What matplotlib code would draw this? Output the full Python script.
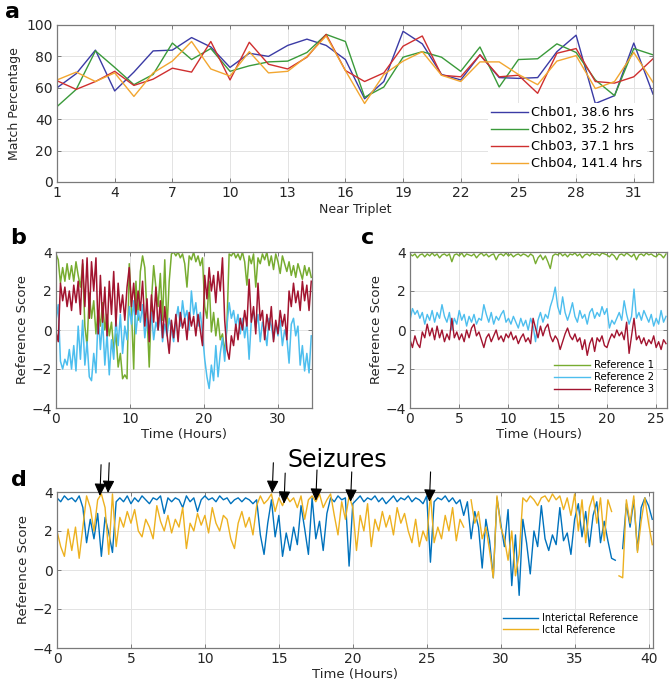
import numpy as np
import matplotlib
matplotlib.use("Agg")
import matplotlib.pyplot as plt

# ---------------- Panel a data ----------------
triplets = list(range(1, 33))
chb01 = [60, 69, 84, 58, 70, 83.5, 84, 92, 86, 73, 82, 80, 87, 91, 87, 78, 53, 64, 96, 88, 68.5, 65, 81, 66.5, 66, 66.5, 83, 93.5, 50, 55, 88.5, 56]
chb02 = [48, 59, 83.5, 73, 62, 68.5, 88.5, 78, 85, 70.5, 74, 76.5, 77, 82.5, 94, 89.5, 54, 60.5, 79.5, 83, 79.5, 70.5, 86, 60.5, 78, 78.5, 88, 82.5, 65, 55, 85, 81]
chb03 = [64.5, 59, 64, 70.5, 61.5, 65.5, 72.5, 70, 89.5, 65, 89, 75, 72, 79.5, 94, 71, 64, 69.5, 86.5, 93, 68, 67, 81, 67, 68, 56.5, 82, 85, 64, 63, 67, 78.5]
chb04 = [65, 70, 64, 69.5, 54.5, 69.5, 77, 89.5, 72, 67.5, 83, 69.5, 70.5, 80, 93, 71, 50, 68.5, 77, 83, 68, 64, 76.5, 76.5, 68.5, 62, 77, 80.5, 59.5, 64, 82.5, 63.5]
legend_a = ["Chb01, 38.6 hrs", "Chb02, 35.2 hrs", "Chb03, 37.1 hrs", "Chb04, 141.4 hrs"]

# ---------------- Panel b data (0 - 34.5 h) ----------------
b_end = 34.5
b_ref1 = [3.9, 3.6, 2.4, 3.2, 2.5, 3.4, 2.6, 3.3, 2.5, 3.5, 2.8, 2.2, 3.4, 0.2, -0.8, 1.9, 0.6, 1.5, -0.2, 1.0,
          0.2, 1.4, 0.0, 0.8, -0.3, 0.4, -1.0, -0.2, -1.9, -1.2, -2.5, -2.3, -2.5, 3.4, 1.0, -2.0, 2.5, 0.5, 3.0, 3.8,
          3.2, 0.8, -1.9, 1.5, 3.3, 2.2, 1.2, 2.9, 0.5, 3.6, 0.0, 2.5, 3.9, 4.0, 3.8, 4.0, 3.7, 3.9, 3.4, 2.2,
          3.8, 3.6, 4.0, 3.5, 3.8, 3.3, 3.7, 1.2, 0.6, 2.5, -0.1, 0.9, -0.3, 0.6, -0.5, -0.2, -1.2, 0.2, 3.9, 3.8,
          4.0, 3.7, 3.9, 3.6, 4.0, 3.5, 2.3, 3.8, 3.4, 3.9, 2.2, 3.7, 3.4, 3.9, 3.6, 4.0, 3.3, 3.8, 3.1, 3.9,
          3.5, 2.9, 3.8, 3.4, 3.0, 3.5, 2.8, 3.3, 2.7, 3.4, 3.0, 2.6, 3.3, 2.8, 3.2, 2.7]
b_ref2 = [0.5, 1.3, -1.6, -2.0, -1.5, -1.8, -1.0, -2.0, -0.8, -2.1, 0.2, -1.5, 0.5, -1.8, -0.6, -2.4, -2.6, -1.2, -2.2, 0.8,
          -1.0, 0.5, -1.8, -0.2, -2.3, -0.5, -1.5, 0.6, -0.8, 0.8, -1.2, 0.2, -0.5, 1.2, 0.3, 1.5, -0.2, 1.0, 0.4, 1.3,
          -0.4, 0.6, -0.3, 0.9, -0.5, 0.4, 0.0, 0.9, -0.6, 0.3, -0.3, 0.6, 0.0, -0.6, 0.5, 1.2, 0.2, 1.5, 0.6, 1.0,
          0.0, 2.0, 0.8, 1.4, 0.2, 0.9, -0.2, -1.5, -2.4, -3.0, -1.8, -2.6, -0.8, -2.4, -1.2, -0.4, -1.6, 0.2, 1.4, 0.6,
          1.0, 0.2, 0.8, -0.2, 0.6, -0.4, 0.4, -1.5, 0.5, 1.0, 0.1, 0.8, -0.6, 0.4, 0.0, -0.8, 0.6, 0.2, -0.5, 0.3,
          -0.3, 0.5, -0.8, 0.0, -0.4, -1.7, 0.3, 0.6, -0.3, 0.2, -1.8, -0.8, -2.1, -1.2, -2.2, -0.3]
b_ref3 = [-0.1, -0.6, 2.4, 1.5, 2.2, 1.2, 2.0, 1.0, 2.3, 1.4, 2.5, 0.8, 3.6, 1.2, 3.7, 0.6, 3.5, 2.0, 3.7, -0.2,
          2.8, 0.4, 2.2, -0.3, 2.5, 0.8, 3.0, 0.2, 2.4, 0.9, 1.8, 0.5, 2.2, 3.2, 1.2, 2.4, 0.8, 2.0, 1.0, 2.5,
          0.2, 1.6, -0.6, 1.8, 0.4, 2.2, 0.0, 1.5, -0.4, 1.2, -0.2, -1.2, 0.5, -0.4, 0.8, -0.6, 0.9, 0.1, 0.6, -0.5,
          0.9, 0.2, 0.7, -0.3, 0.8, 0.0, -0.8, 2.8, 1.6, 3.2, 2.0, 2.8, 1.4, 3.0, 2.0, 3.7, 0.5, -1.0, -1.5, -0.3,
          -0.8, 0.3, -0.5, 0.6, 0.0, 1.0, 0.2, 2.6, 0.4, 1.2, -0.2, 2.4, 0.5, 1.0, -0.5, 0.8, 0.0, 1.2, -0.6, 0.5,
          -0.2, 1.0, 0.2, 0.8, -0.5, 2.0, 1.2, 2.4, 1.4, 2.0, 1.0, 2.5, 1.5, 2.3, 1.0, 2.5]

# ---------------- Panel c data (0 - 26 h) ----------------
c_end = 26.0
c_ref1 = [3.9, 3.8, 3.9, 3.7, 3.85, 3.9, 3.75, 3.9, 3.8, 3.95, 3.8, 3.9, 3.7, 3.85, 3.9, 3.8, 3.9, 3.5, 3.85, 3.9,
          3.8, 3.95, 3.75, 3.9, 3.85, 3.8, 3.9, 3.7, 3.85, 3.95, 3.8, 3.9, 3.75, 3.85, 3.9, 3.6, 3.85, 3.9, 3.8, 3.95,
          3.8, 3.9, 3.75, 3.85, 3.9, 3.8, 3.9, 3.85, 3.75, 3.9, 3.8, 3.4, 3.7, 3.85, 3.6, 3.8, 3.5, 3.15, 3.8, 3.9,
          3.85, 3.95, 3.8, 3.9, 3.75, 3.9, 3.85, 3.95, 3.8, 3.9, 3.7, 3.85, 3.9, 3.8, 3.95, 3.85, 3.9, 3.8, 3.95, 3.9,
          3.85, 3.75, 3.9, 3.8, 3.6, 3.85, 3.9, 3.8, 3.95, 3.85, 3.75, 3.9, 3.6, 3.85, 3.9, 3.8, 3.95, 3.85, 3.9, 3.8,
          3.75, 3.9, 3.85, 3.7, 3.9]
c_ref2 = [0.5, 1.1, 0.8, 1.0, 0.6, 0.9, 0.3, 0.8, 0.5, 1.0, 0.4, 0.9, 0.6, 1.3, 0.7, 0.4, 0.9, 0.0, 0.6, 0.3,
          1.0, 0.5, 0.8, 0.2, 0.7, 0.4, 0.8, 0.3, 0.6, 0.5, 1.3, 0.8, 0.4, 0.9, 0.3, 0.7, 0.5, 0.8, 1.0, 0.4,
          0.6, 0.3, 0.7, 0.4, 0.1, 0.6, 0.2, 0.5, 0.0, 0.6, 0.2, -0.6, 0.5, 0.9, 0.4, 0.8, 0.6, 1.2, 1.6, 2.2,
          1.2, 0.8, 1.7, 0.9, 0.5, 0.9, 1.4, 0.7, 0.4, 1.0, 0.6, 0.8, 0.3, 0.9, 1.1, 0.6, 0.9, 0.7, 1.2, 0.8,
          1.1, 0.1, 0.5, 0.3, 0.6, 0.9, 0.5, 1.5, 0.8, 0.3, 0.7, 2.1, 0.6, 0.9, 0.5, 1.0, 0.7, 0.4, 0.8, 0.2,
          0.6, 0.3, 1.0, 0.4, 0.7]
c_ref3 = [-0.5, -0.9, -0.3, -0.7, -0.9, -0.1, -0.4, 0.3, -0.3, 0.1, -0.5, 0.2, -0.4, 0.0, -0.6, -0.2, -0.5, 0.6, -0.4, -0.1,
          -0.5, -0.2, -0.6, 0.0, -0.4, 0.1, 0.3, -0.3, -0.1, -0.5, -0.9, -0.4, -0.2, -0.6, -0.3, 0.0, -0.5, -0.3, -0.6, -0.2,
          -0.4, -0.1, -0.5, -0.3, -0.7, -0.4, -0.2, -0.6, -0.4, -0.7, 0.6, 0.1, -0.4, 0.2, -0.3, 0.1, 0.3, -0.3, -0.6, -0.3,
          -0.5, -1.0, -0.6, -0.2, 0.1, -0.3, -0.5, -0.2, -0.6, -0.4, -1.0, -0.5, -1.3, -0.7, -0.4, -1.1, -0.4, -0.6, -0.3, -0.8,
          -0.9, -0.5, -0.2, -0.4, 0.0, -0.3, -0.1, -0.5, 0.4, -1.2, -0.3, 0.6, -0.5, -0.3, -0.7, -0.4, -0.8, -0.5, -0.7, -0.3,
          -0.9, -0.6, -1.0, -0.5, -0.7]
legend_c = ["Reference 1", "Reference 2", "Reference 3"]

# ---------------- Panel d data (0 - 40.25 h) ----------------
nan = np.nan
d_end = 40.25
d_interictal = [3.7, 3.5, 3.8, 3.6, 3.7, 3.5, 3.8, 3.2, 1.4, 2.6, 1.6, 2.9, 0.7, 2.7, 1.9, 0.9, 3.5, 3.7, 3.5, 3.8,
                3.4, 3.7, 3.5, 3.8, 3.6, 3.4, 3.7, 3.6, 3.8, 2.9, 3.7, 3.5, 3.7, 3.6, 3.2, 3.8, 3.5, 3.7, 3.0, 3.6,
                3.8, 3.6, 3.7, 3.5, 3.8, 3.6, 3.7, 3.4, 3.6, 3.7, 3.5, 3.7, 3.6, 3.4, 3.6, 1.8, 0.8, 2.4, 3.6, 1.7,
                2.8, 0.7, 1.9, 1.0, 2.2, 1.3, 3.3, 2.1, 0.8, 3.7, 1.6, 2.5, 1.0, 2.9, 3.7, 3.5, 3.8, 3.6, 3.7, 0.2,
                3.4, 3.6, 3.8, 3.5, 3.7, 3.6, 3.8, 3.5, 3.7, 3.4, 3.6, 3.8, 3.5, 3.7, 3.6, 3.8, 3.5, 3.7, 3.6, 3.4,
                3.8, 0.4, 3.5, 3.7, 3.6, 3.8, 3.5, 3.7, 3.4, 3.6, 2.8, 3.5, 1.6, 3.0, 2.2, 0.1, 2.6, 1.5, -0.4, 3.7,
                2.4, 1.2, 3.1, -0.8, 1.8, -1.3, 2.6, 1.4, -0.2, 2.0, 1.2, 3.3, 1.6, 1.0, 1.8, 1.3, 3.2, 1.5, 1.9, 0.8,
                2.6, 3.4, 1.7, 3.0, 1.2, 2.8, 3.5, 1.4, 2.5, 1.5, 0.6, 0.5, nan, 1.1, 3.4, 2.2, 3.6, 1.0, 3.2, 3.7,
                3.3, 2.6]
d_ictal = [2.0, 1.2, 0.7, 2.1, 1.0, 2.2, 0.6, 2.2, 3.8, 3.2, 2.0, 3.6, 3.9, 3.2, 0.8, 3.9, 1.2, 2.7, 2.2, 3.0,
           2.4, 3.1, 2.0, 1.7, 2.6, 2.2, 1.6, 3.3, 2.5, 2.0, 2.8, 1.9, 2.6, 2.2, 3.2, 1.1, 2.4, 2.0, 2.9, 2.3,
           2.8, 1.9, 3.2, 2.4, 2.0, 2.8, 2.6, 1.6, 1.1, 2.4, 3.0, 2.2, 2.7, 1.8, 3.3, 3.8, 3.4, 3.6, 3.9, 3.0,
           3.7, 3.3, 3.8, 3.5, 3.7, 3.2, 3.8, 2.6, 3.6, 3.8, 3.5, 3.9, 3.2, 3.6, 3.9, 2.8, 1.8, 3.5, 2.6, 3.8,
           3.2, 1.0, 2.8, 2.0, 3.4, 1.2, 2.6, 2.0, 3.0, 2.2, 2.8, 1.8, 3.2, 2.4, 2.9, 2.0, 1.4, 2.6, 1.2, 2.0,
           1.5, 3.9, 1.4, 2.2, 1.6, 2.8, 2.0, 3.2, 1.5, 2.6, 2.2, nan, 3.6, 2.4, 3.0, 1.6, 2.2, 1.0, -0.4, 3.8,
           2.2, 1.6, 0.5, 2.0, -0.3, 0.8, 3.7, 3.5, 3.8, 3.6, 3.3, 3.7, 3.8, 3.5, 3.9, 3.6, 3.8, 3.1, 3.7, 2.8,
           3.9, 2.0, 3.6, 1.4, 3.2, 3.8, 2.4, 3.7, 1.5, 3.6, 3.0, nan, -0.3, -0.4, 3.6, 2.4, 3.8, 0.9, 2.5, 3.7,
           2.4, 1.3]
legend_d = ["Interictal Reference", "Ictal Reference"]
seizure_hours = [2.9, 3.45, 14.55, 15.35, 17.5, 19.85, 25.18]
arrow_tip = [3.8, 3.95, 3.95, 3.4, 3.55, 3.5, 3.5]
arrow_tail = [5.4, 5.5, 5.5, 4.97, 5.13, 5.03, 5.03]

# ---------------- styling ----------------
plt.rcParams['font.family'] = ['DejaVu Sans']
SPINE = '#7a7a7a'
TXT = '#262626'
GRID = '#e3e3e3'

fig = plt.figure(figsize=(6.69, 6.83), dpi=100)
W, H = 669.0, 683.0

def ax_px(l, t, r, b):
    return fig.add_axes([l / W, 1 - b / H, (r - l) / W, (b - t) / H])

def style(ax, fs=9.5):
    for s in ax.spines.values():
        s.set_color(SPINE)
        s.set_linewidth(0.9)
    ax.tick_params(direction='in', length=3, width=0.7, colors=SPINE, labelcolor=TXT,
                   labelsize=fs, top=True, right=True, pad=3)
    ax.grid(True, color=GRID, linewidth=0.7)
    ax.set_axisbelow(True)

# Panel a
axa = ax_px(57, 25, 653, 182)
ca = ['#3b3ba5', '#3a9a3a', '#cf2f2f', '#f2a630']
for ys, c, lab in zip([chb01, chb02, chb03, chb04], ca, legend_a):
    axa.plot(triplets, ys, color=c, lw=1.0, label=lab)
axa.set_xlim(1, 32)
axa.set_ylim(0, 100)
axa.set_xticks([1, 4, 7, 10, 13, 16, 19, 22, 25, 28, 31])
axa.set_yticks([0, 20, 40, 60, 80, 100])
style(axa, 10)
axa.set_xlabel("Near Triplet", fontsize=9, color=TXT, labelpad=2)
axa.set_ylabel("Match Percentage", fontsize=9, color=TXT, labelpad=4)
leg = axa.legend(loc='lower right', fontsize=9.3, frameon=True, handlelength=2.8,
                 handletextpad=0.3, labelspacing=0.3, borderpad=0.3,
                 bbox_to_anchor=(1.0, 0.01))
leg.get_frame().set_edgecolor('none')
leg.get_frame().set_facecolor('white')
leg.get_frame().set_alpha(1)

# Panel b
col1, col2, col3 = '#77ac30', '#4dbeee', '#a2142f'
axb = ax_px(56, 252, 312, 408)
for ys, c in zip([b_ref1, b_ref2, b_ref3], [col1, col2, col3]):
    axb.plot(np.linspace(0, b_end, len(ys)), ys, color=c, lw=1.1)
axb.set_xlim(0, 34.6)
axb.set_ylim(-4, 4)
axb.set_xticks([0, 10, 20, 30])
axb.set_yticks([-4, -2, 0, 2, 4])
style(axb, 10)
axb.set_xlabel("Time (Hours)", fontsize=9.5, color=TXT, labelpad=1)
axb.set_ylabel("Reference Score", fontsize=9.5, color=TXT, labelpad=2)

# Panel c
axc = ax_px(410, 252, 667, 408)
for ys, c, lab in zip([c_ref1, c_ref2, c_ref3], [col1, col2, col3], legend_c):
    axc.plot(np.linspace(0, c_end, len(ys)), ys, color=c, lw=1.0, label=lab)
axc.set_xlim(0, 26.1)
axc.set_ylim(-4, 4)
axc.set_xticks([0, 5, 10, 15, 20, 25])
axc.set_yticks([-4, -2, 0, 2, 4])
style(axc, 10)
axc.set_xlabel("Time (Hours)", fontsize=9.5, color=TXT, labelpad=1)
axc.set_ylabel("Reference Score", fontsize=9.5, color=TXT, labelpad=2)
legc = axc.legend(loc='lower right', fontsize=7.3, frameon=False, handlelength=3.6,
                  handletextpad=0.35, labelspacing=0.2, bbox_to_anchor=(0.985, 0.03))

# Panel d
axd = ax_px(57, 492, 653, 648)
cd = ['#0072bd', '#edb120']
for ys, c, lab in zip([d_interictal, d_ictal], cd, legend_d):
    axd.plot(np.linspace(0, d_end, len(ys)), ys, color=c, lw=1.0, label=lab)
axd.set_xlim(0, 40.3)
axd.set_ylim(-4, 4)
axd.set_xticks([0, 5, 10, 15, 20, 25, 30, 35, 40])
axd.set_yticks([-4, -2, 0, 2, 4])
style(axd, 10)
axd.set_xlabel("Time (Hours)", fontsize=9.5, color=TXT, labelpad=1)
axd.set_ylabel("Reference Score", fontsize=9.5, color=TXT, labelpad=2)
legd = axd.legend(loc='lower right', fontsize=7.0, frameon=False, handlelength=3.6,
                  handletextpad=0.4, labelspacing=0.15, bbox_to_anchor=(0.99, 0.03))
for hx, tip, tail in zip(seizure_hours, arrow_tip, arrow_tail):
    axd.annotate("", xy=(hx, tip), xytext=(hx + 0.08, tail), xycoords='data',
                 annotation_clip=False,
                 arrowprops=dict(arrowstyle='-|>,head_length=0.75,head_width=0.36',
                                 color='black', lw=0.8, shrinkA=0, shrinkB=0))
fig.text(337 / W, 1 - 460 / H, "Seizures", fontsize=17, ha='center', va='center', color='black')

# panel letters
for lab, x, y in [("a", 5, 12), ("b", 10, 238), ("c", 361, 238), ("d", 11, 480)]:
    fig.text(x / W, 1 - y / H, lab, fontsize=16, fontweight='bold', ha='left', va='center')

fig.savefig("out.png", dpi=100)
